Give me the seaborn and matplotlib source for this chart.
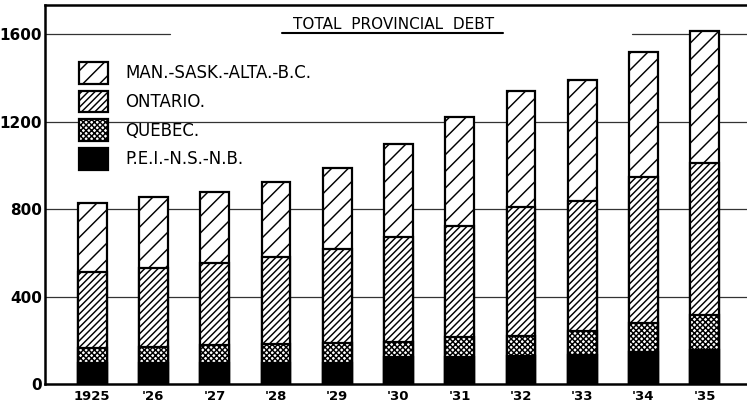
import matplotlib
matplotlib.use("Agg")
import matplotlib.pyplot as plt
import seaborn as sns
import numpy as np
from matplotlib.patches import Patch

years = ["1925", "'26", "'27", "'28", "'29", "'30", "'31", "'32", "'33", "'34", "'35"]
pei_ns_nb = [97, 97, 94, 94, 97, 125, 125, 128, 133, 148, 155]
quebec = [69, 74, 84, 87, 89, 69, 91, 91, 111, 132, 160]
ontario = [347, 358, 374, 398, 430, 477, 506, 589, 594, 668, 697]
western = [314, 327, 327, 346, 370, 426, 500, 533, 552, 568, 603]
series_labels = ["MAN.-SASK.-ALTA.-B.C.", "ONTARIO.", "QUEBEC.", "P.E.I.-N.S.-N.B."]
yticks = [0, 400, 800, 1200, 1600]

sns.set_style("white")
plt.rcParams['font.family'] = ['Liberation Sans Narrow', 'DejaVu Sans']
plt.rcParams['hatch.linewidth'] = 1.05
plt.rcParams['text.color'] = 'black'
plt.rcParams['xtick.color'] = 'black'
plt.rcParams['ytick.color'] = 'black'

fig = plt.figure(figsize=(7.47, 4.07), dpi=100)
ax = fig.add_axes([45/747, 23/407, 702/747, 379/407])

c1 = np.array(pei_ns_nb)
c2 = c1 + np.array(quebec)
c3 = c2 + np.array(ontario)
c4 = c3 + np.array(western)

layers = [(c4, "white", "//"), (c3, "white", "/////"), (c2, "white", "xxxxxx"), (c1, "black", None)]
for cum, fc, h in layers:
    sns.barplot(x=years, y=cum, color=fc, edgecolor="black", linewidth=1.6,
                width=0.47, hatch=h, ax=ax, zorder=2, saturation=1)

ax.set_xlim(-0.77, 10.69)
ax.set_ylim(0, 1733)

# grid lines
for v in yticks[1:4]:
    ax.axhline(v, color="#333333", lw=0.9, zorder=0)
ax.axhline(1600, xmin=0, xmax=0.178, color="#333333", lw=0.9, zorder=0)
ax.axhline(1600, xmin=0.836, xmax=1.0, color="#333333", lw=0.9, zorder=0)

ax.set_yticks(yticks)
ax.set_yticklabels([str(v) for v in yticks], fontsize=11, fontweight="bold")
ax.tick_params(axis="both", length=0)
ax.tick_params(axis="y", pad=2)
ax.tick_params(axis="x", pad=4, labelsize=9.5)
for t in ax.get_xticklabels():
    t.set_fontweight("bold")
ax.set_xlabel("")
ax.set_ylabel("")

for s in ["left", "bottom", "top"]:
    ax.spines[s].set_visible(True)
    ax.spines[s].set_linewidth(1.8)
    ax.spines[s].set_color("black")
ax.spines["right"].set_visible(False)

# title with underline
ax.text(0.497, 0.949, "TOTAL  PROVINCIAL  DEBT", transform=ax.transAxes,
        ha="center", va="center", fontsize=11, family=["DejaVu Sans"])
ax.plot([0.338, 0.652], [0.926, 0.926], transform=ax.transAxes, color="black", lw=1.5)

handles = [Patch(facecolor="white", edgecolor="black", hatch="//", linewidth=1.6),
           Patch(facecolor="white", edgecolor="black", hatch="/////", linewidth=1.6),
           Patch(facecolor="white", edgecolor="black", hatch="xxxxxx", linewidth=1.6),
           Patch(facecolor="black", edgecolor="black", linewidth=1.6)]
leg = ax.legend(handles, series_labels, loc="upper left", bbox_to_anchor=(0.0485, 0.849),
                frameon=False, fontsize=12, handlelength=1.75, handleheight=1.62,
                labelspacing=0.42, handletextpad=1.0, borderaxespad=0, borderpad=0)

fig.savefig("out.png", dpi=100)
